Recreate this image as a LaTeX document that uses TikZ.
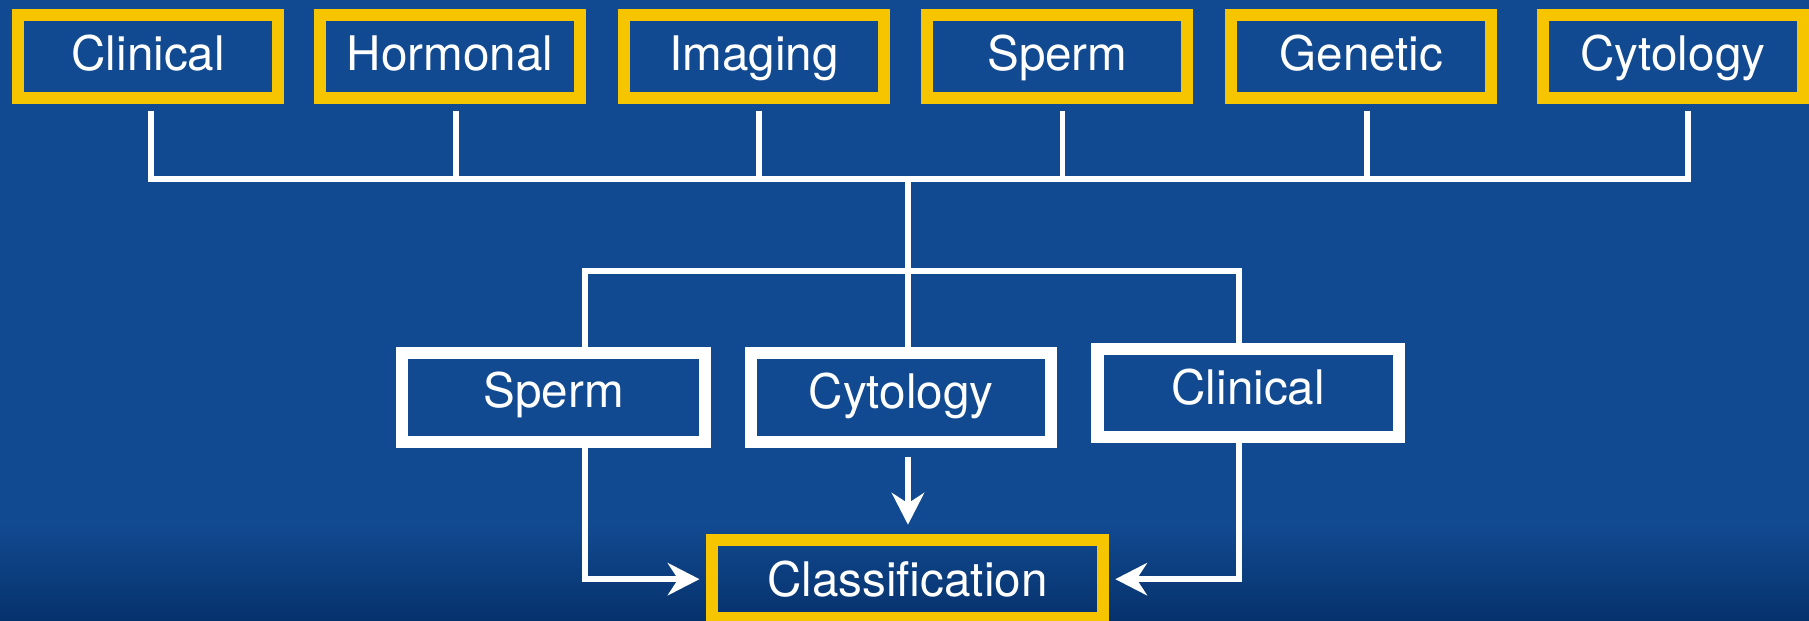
\documentclass[tikz,border=0pt]{standalone}
\usepackage{fontspec}
\setmainfont{TeX Gyre Heros}
\usetikzlibrary{arrows.meta,calc}
\definecolor{bgblue}{RGB}{18,74,146}
\definecolor{bgdark}{RGB}{6,50,108}
\definecolor{boxyellow}{RGB}{246,197,0}
\pgfdeclareverticalshading{bgshade}{100bp}{color(0bp)=(bgdark); color(25bp)=(bgdark); color(33bp)=(bgblue); color(100bp)=(bgblue)}
\begin{document}
\begin{tikzpicture}[x=0.02cm,y=0.02cm,
  box/.style={line width=0.21cm, inner sep=0pt, text=white,
    font=\fontsize{23.5}{28}\selectfont, text height=0.6cm, text depth=0pt},
  ybox/.style={box, draw=boxyellow},
  wbox/.style={box, draw=white},
  topbox/.style={ybox, minimum width=4.51cm, minimum height=1.43cm, text depth=0.1cm},
  wline/.style={draw=white, line width=0.1cm},
  warrow/.style={wline, -{Stealth[length=0.55cm,width=0.56cm,inset=0.18cm]}}
]
\shade[shading=bgshade] (0,0) rectangle (1568,-538);
\useasboundingbox (0,0) rectangle (1568,-538);

% top row
\node[topbox] (t1) at (128.5,-49) {Clinical};
\node[topbox] (t2) at (390,-49) {Hormonal};
\node[topbox] (t3) at (653.5,-49) {Imaging};
\node[topbox] (t4) at (916.5,-49) {Sperm};
\node[topbox] (t5) at (1180,-49) {Genetic};
\node[topbox] (t6) at (1450,-49) {Cytology};

% middle row
\node[wbox, minimum width=5.25cm, minimum height=1.53cm, text depth=0.24cm] (m1) at (480,-344.5) {Sperm};
\node[wbox, minimum width=5.19cm, minimum height=1.53cm, text depth=0.2cm] (m2) at (781,-344.5) {Cytology};
\node[wbox, minimum width=5.23cm, minimum height=1.53cm, text depth=0.18cm] (m3) at (1082,-340.5) {Clinical};

% bottom
\node[ybox, minimum width=6.79cm, minimum height=1.35cm] (cl) at (786.5,-502) {Classification};

% connectors top
\coordinate (bus) at (0,-155);
\foreach \n/\dx in {1/2.5,2/5,3/4.5,4/4.5,5/5,6/13}{
  \path ($(t\n.south)+(\dx,-6)$) coordinate (s\n);
}
\draw[wline] (s1) |- (s6 |- bus) -- (s6);
\foreach \n in {2,...,5}{ \draw[wline] (s\n) -- (s\n |- bus); }

\coordinate (jt) at (787,-155);
\coordinate (xl) at (507,-235);
\coordinate (xr) at (1074,-235);
\draw[wline] (jt) -- (m2.north -| jt);
\draw[wline] (m1.north -| xl) -- (xl) -- (xr) -- (m3.north -| xr);

% arrows
\draw[warrow, shorten >=0.105cm] (m1.south -| xl) |- (cl.west);
\draw[warrow, shorten >=0.105cm] (m3.south -| xr) |- (cl.east);
\draw[warrow, shorten <=0.16cm, shorten >=0.165cm] (m2.south -| jt) -- (cl.north -| jt);
\end{tikzpicture}
\end{document}
